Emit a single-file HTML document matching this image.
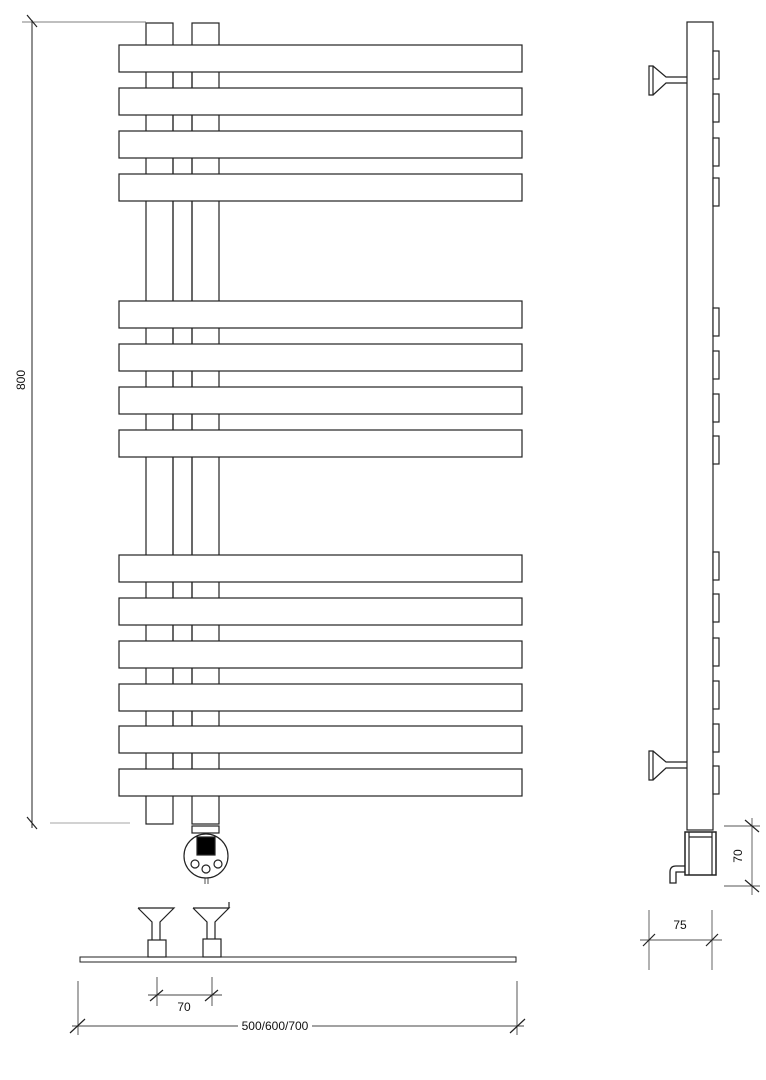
<!DOCTYPE html>
<html><head><style>body{margin:0;background:#fff}svg{display:block}</style></head><body>
<svg width="766" height="1080" viewBox="0 0 766 1080" xmlns="http://www.w3.org/2000/svg" font-family="Liberation Sans, sans-serif">
<g fill="none" stroke="#222" stroke-width="1.2">
<rect x="146" y="23" width="27" height="801" fill="#fff"/>
<rect x="192" y="23" width="27" height="801" fill="#fff"/>
<line x1="173" y1="45" x2="173" y2="796"/>
<line x1="192" y1="45" x2="192" y2="796"/>
<g fill="#fff">
<rect x="119" y="45" width="403" height="27"/>
<rect x="119" y="88" width="403" height="27"/>
<rect x="119" y="131" width="403" height="27"/>
<rect x="119" y="174" width="403" height="27"/>
<rect x="119" y="301" width="403" height="27"/>
<rect x="119" y="344" width="403" height="27"/>
<rect x="119" y="387" width="403" height="27"/>
<rect x="119" y="430" width="403" height="27"/>
<rect x="119" y="555" width="403" height="27"/>
<rect x="119" y="598" width="403" height="27"/>
<rect x="119" y="641" width="403" height="27"/>
<rect x="119" y="684" width="403" height="27"/>
<rect x="119" y="726" width="403" height="27"/>
<rect x="119" y="769" width="403" height="27"/>
</g>
<rect x="192" y="826" width="27" height="7"/>
<circle cx="206" cy="856" r="22"/>
<rect x="197" y="837" width="18" height="18" fill="#000"/>
<circle cx="195" cy="864" r="4"/><circle cx="206" cy="869" r="4"/><circle cx="218" cy="864" r="4"/>
<line x1="205" y1="878" x2="205" y2="884" stroke-width="0.8"/><line x1="208" y1="878" x2="208" y2="884" stroke-width="0.8"/>
<line x1="32" y1="20" x2="32" y2="828" stroke-width="1"/>
<line x1="22" y1="22" x2="146" y2="22" stroke-width="0.8" stroke="#555"/>
<line x1="27" y1="15" x2="37" y2="27"/>
<line x1="50" y1="823" x2="130" y2="823" stroke-width="0.8" stroke="#888"/>
<line x1="27" y1="817" x2="37" y2="829"/>
<rect x="80" y="957" width="436" height="5" stroke-width="1"/>
<path d="M138 908 H174 L160 922 V941 M138 908 L152 922 V941"/>
<rect x="148" y="940" width="18" height="17" fill="#fff"/>
<path d="M193 908 H229 L215 922 V939 M193 908 L207 922 V939 M229 902 V908"/>
<rect x="203" y="939" width="18" height="18" fill="#fff"/>
<g stroke="#444" stroke-width="0.9">
<line x1="78" y1="981" x2="78" y2="1035"/><line x1="517" y1="981" x2="517" y2="1035"/>
<line x1="72" y1="1026" x2="238" y2="1026"/><line x1="312" y1="1026" x2="524" y2="1026"/>
<line x1="157" y1="977" x2="157" y2="1006"/><line x1="212" y1="977" x2="212" y2="1006"/>
<line x1="148" y1="995" x2="222" y2="995"/>
</g>
<line x1="70" y1="1033" x2="85" y2="1019"/><line x1="510" y1="1033" x2="525" y2="1019"/>
<line x1="150" y1="1001" x2="163" y2="990"/><line x1="205" y1="1001" x2="218" y2="990"/>
<rect x="687" y="22" width="26" height="808" fill="#fff"/>
<g fill="#fff">
<rect x="713" y="51" width="6" height="28"/><rect x="713" y="94" width="6" height="28"/>
<rect x="713" y="138" width="6" height="28"/><rect x="713" y="178" width="6" height="28"/>
<rect x="713" y="308" width="6" height="28"/><rect x="713" y="351" width="6" height="28"/>
<rect x="713" y="394" width="6" height="28"/><rect x="713" y="436" width="6" height="28"/>
<rect x="713" y="552" width="6" height="28"/><rect x="713" y="594" width="6" height="28"/>
<rect x="713" y="638" width="6" height="28"/><rect x="713" y="681" width="6" height="28"/>
<rect x="713" y="724" width="6" height="28"/><rect x="713" y="766" width="6" height="28"/>
</g>
<path d="M649 66 V95 H653 V66 Z M653 66 L666 77 H687 M653 95 L666 83 H687"/>
<path d="M649 751 V780 H653 V751 Z M653 751 L666 762 H687 M653 780 L666 768 H687"/>
<rect x="685" y="832" width="31" height="43" stroke-width="1.5"/>
<line x1="689" y1="832" x2="689" y2="875"/><line x1="712" y1="832" x2="712" y2="875"/>
<line x1="689" y1="837" x2="712" y2="837"/>
<path d="M685 866 H676 Q670 866 670 872 V883 H676 V872 H685" stroke-width="1.3"/>
<g stroke="#555" stroke-width="0.9">
<line x1="724" y1="826" x2="760" y2="826"/><line x1="724" y1="886" x2="760" y2="886"/>
<line x1="752" y1="818" x2="752" y2="895"/>
<line x1="649" y1="910" x2="649" y2="970"/><line x1="712" y1="910" x2="712" y2="970"/>
<line x1="640" y1="940" x2="722" y2="940"/>
</g>
<line x1="745" y1="820" x2="759" y2="832"/><line x1="745" y1="880" x2="759" y2="892"/>
<line x1="643" y1="946" x2="655" y2="934"/><line x1="706" y1="946" x2="718" y2="934"/>
</g>
<g font-size="12" fill="#111">
<text x="25" y="380" transform="rotate(-90 25 380)" text-anchor="middle">800</text>
<text x="184" y="1011" text-anchor="middle">70</text>
<text x="275" y="1030" text-anchor="middle">500/600/700</text>
<text x="680" y="929" text-anchor="middle">75</text>
<text x="742" y="856" transform="rotate(-90 742 856)" text-anchor="middle">70</text>
</g>
</svg>
</body></html>
